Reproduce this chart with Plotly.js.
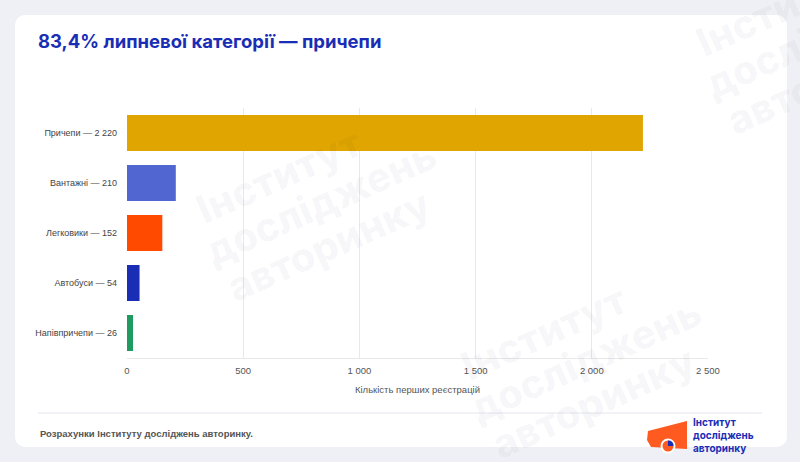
<!DOCTYPE html>
<html>
<head>
<meta charset="utf-8">
<script src="https://cdn.plot.ly/plotly-3.0.1.min.js"></script>
<style>
  html, body { margin: 0; padding: 0; background: #eef0f5; }
  #card { position: absolute; left: 15px; top: 15px; width: 772px; height: 432px;
          background: #ffffff; border-radius: 10px; }
  #chart { position: absolute; left: 0; top: 0; width: 800px; height: 462px; }
</style>
</head>
<body>
<div id="card"></div>
<div id="chart"></div>
<script>
// data
var categories = ['Причепи', 'Вантажні', 'Легковики', 'Автобуси', 'Напівпричепи'];
var registrations = [2220, 210, 152, 54, 26];
var barColors = ['#e0a500', '#5166d0', '#ff4a00', '#1a2db5', '#1f9a60'];
var xTickVals = [0, 500, 1000, 1500, 2000, 2500];
var xTickText = ['0', '500', '1 000', '1 500', '2 000', '2 500'];
var logoLines = ['Інститут', 'досліджень', 'авторинку'];

function spaced(v) {
    return String(v).replace(/\B(?=(\d{3})+(?!\d))/g, ' ');
}

var labels = categories.map(function (c, i) {
    return c + ' — ' + spaced(registrations[i]);
});

var trace = {
    type: 'bar',
    orientation: 'h',
    x: registrations,
    y: labels,
    marker: { color: barColors },
    hoverinfo: 'x+y'
};

// pixel helpers for the plot area (l=127, r=708, t=108, b=358)
function px(x) { return (x - 127) / 581; }
function py(y) { return (358 - y) / 250; }

var blue = '#1a2db5';
var orange = '#ff5a1f';

var annotations = [];

// faint rotated watermarks, one annotation per line
var wmWidths = [195, 250, 228];
function watermark(sx, sy) {
    var a = 24 * Math.PI / 180;
    var ux = Math.cos(a), uy = -Math.sin(a);
    var nx = Math.sin(a), ny = Math.cos(a);
    logoLines.forEach(function (t, i) {
        var cx = sx + nx * 42 * i + ux * wmWidths[i] / 2;
        var cy = sy + ny * 42 * i + uy * wmWidths[i] / 2;
        annotations.push({
            xref: 'paper', yref: 'paper', x: px(cx), y: py(cy),
            xanchor: 'center', yanchor: 'middle', showarrow: false, textangle: -24,
            text: t,
            font: { family: 'Inter, sans-serif', size: 40, color: 'rgba(20,30,70,0.04)', weight: 800 }
        });
    });
}
watermark(190, 215);
watermark(455, 372);
watermark(690, 48);

annotations.push({
    xref: 'paper', yref: 'paper', x: px(38), y: py(433), xanchor: 'left', yanchor: 'middle',
    showarrow: false,
    text: 'Розрахунки Інституту досліджень авторинку.',
    font: { size: 9.5, color: '#555', weight: 700 }
});

annotations.push({
    xref: 'paper', yref: 'paper', x: px(691), y: py(435), xanchor: 'left', yanchor: 'middle',
    showarrow: false, align: 'left', text: logoLines.join('<br>'),
    font: { family: 'Inter, Roboto, sans-serif', size: 10, color: blue, weight: 700 }
});

var layout = {
    width: 800,
    height: 462,
    margin: { l: 127, r: 92, t: 108, b: 104 },
    paper_bgcolor: 'rgba(0,0,0,0)',
    plot_bgcolor: 'rgba(0,0,0,0)',
    showlegend: false,
    bargap: 0.28,
    font: { family: 'Liberation Sans, Arial, sans-serif', color: '#444' },
    title: {
        text: '83,4% липневої категорії — причепи',
        x: 38 / 800, xref: 'container', xanchor: 'left',
        y: 1 - 42 / 462, yref: 'container', yanchor: 'middle',
        font: { family: 'Inter, Roboto, sans-serif', size: 18.5, color: blue, weight: 700 }
    },
    xaxis: {
        range: [0, 2500],
        tickvals: xTickVals,
        ticktext: xTickText,
        tickfont: { size: 9.5, color: '#555' },
        gridcolor: '#e8e8e8',
        zeroline: false,
        showline: true,
        linecolor: '#e8e8e8',
        ticks: '',
        ticklabelstandoff: 4,
        title: { text: 'Кількість перших реєстрацій', font: { size: 9.5, color: '#555' }, standoff: 10 }
    },
    yaxis: {
        type: 'category',
        autorange: 'reversed',
        tickfont: { size: 9, color: '#444' },
        ticks: '',
        ticklabelstandoff: 9,
        showgrid: false,
        showline: false
    },
    shapes: [
        { type: 'line', xref: 'paper', yref: 'paper', x0: px(38), x1: px(762), y0: py(413), y1: py(413),
          line: { color: '#e4e6ee', width: 1 } },
        // logo: orange body
        { type: 'path', xref: 'paper', yref: 'paper', layer: 'above',
          path: 'M ' + px(648) + ',' + py(431) + ' L ' + px(687) + ',' + py(421) +
                ' L ' + px(687) + ',' + py(449) + ' L ' + px(651) + ',' + py(447) +
                ' L ' + px(647) + ',' + py(440) + ' Z',
          fillcolor: orange, line: { width: 0 } },
        { type: 'circle', xref: 'paper', yref: 'paper', layer: 'above',
          x0: px(660.5), x1: px(675.5), y0: py(453.5), y1: py(438.5),
          fillcolor: '#ffffff', line: { width: 0 } },
        { type: 'circle', xref: 'paper', yref: 'paper', layer: 'above',
          x0: px(662.5), x1: px(673.5), y0: py(451.5), y1: py(440.5),
          fillcolor: orange, line: { width: 0 } },
        { type: 'path', xref: 'paper', yref: 'paper', layer: 'above',
          path: 'M ' + px(668) + ',' + py(446) + ' L ' + px(668) + ',' + py(440.5) +
                ' Q ' + px(673.5) + ',' + py(440.5) + ' ' + px(673.5) + ',' + py(446) + ' Z',
          fillcolor: blue, line: { width: 0 } }
    ],
    annotations: annotations
};

Plotly.newPlot('chart', [trace], layout, { displayModeBar: false, staticPlot: true });
</script>
</body>
</html>
